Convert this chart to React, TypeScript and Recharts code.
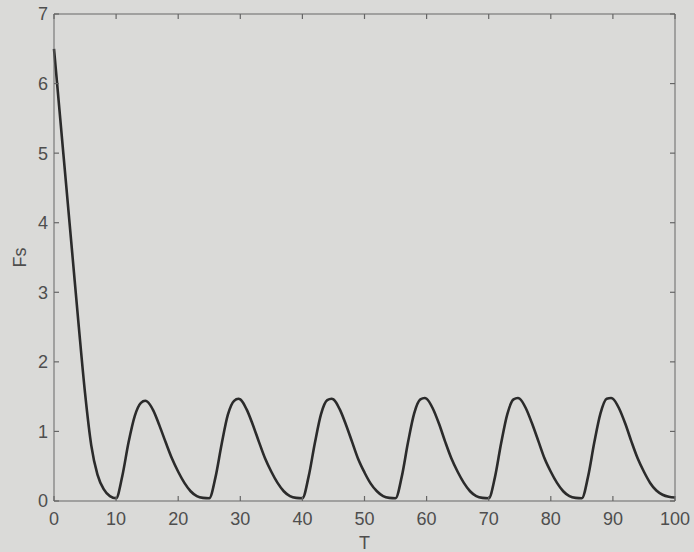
import { LineChart, Line, XAxis, YAxis, Label } from 'recharts';

// samples (extra point at each crest)
const tValues = [
  0, 1, 2, 3, 4, 5, 6, 7, 8, 9, 10,
  11, 12, 13, 14, 14.7, 15, 16, 17, 18, 19, 20, 21, 22, 23, 24, 25,
  26, 27, 28, 29, 29.7, 30, 31, 32, 33, 34, 35, 36, 37, 38, 39, 40,
  41, 42, 43, 44, 44.7, 45, 46, 47, 48, 49, 50, 51, 52, 53, 54, 55,
  56, 57, 58, 59, 59.7, 60, 61, 62, 63, 64, 65, 66, 67, 68, 69, 70,
  71, 72, 73, 74, 74.7, 75, 76, 77, 78, 79, 80, 81, 82, 83, 84, 85,
  86, 87, 88, 89, 89.7, 90, 91, 92, 93, 94, 95, 96, 97, 98, 99, 100,
];

const fsValues = [
  6.5, 5.5, 4.5, 3.5, 2.5, 1.55, 0.8, 0.38, 0.17, 0.07, 0.04,
  0.36, 0.84, 1.22, 1.41, 1.44, 1.43, 1.3, 1.08, 0.84, 0.61, 0.42, 0.26, 0.14, 0.07, 0.045, 0.04,
  0.34, 0.82, 1.24, 1.44, 1.47, 1.46, 1.32, 1.1, 0.85, 0.61, 0.42, 0.26, 0.14, 0.07, 0.045, 0.04,
  0.35, 0.83, 1.25, 1.45, 1.47, 1.46, 1.32, 1.1, 0.85, 0.6, 0.41, 0.25, 0.14, 0.07, 0.045, 0.04,
  0.35, 0.84, 1.26, 1.46, 1.48, 1.47, 1.33, 1.11, 0.85, 0.61, 0.42, 0.26, 0.14, 0.07, 0.045, 0.04,
  0.34, 0.83, 1.25, 1.46, 1.48, 1.47, 1.33, 1.11, 0.86, 0.61, 0.42, 0.26, 0.14, 0.07, 0.045, 0.04,
  0.35, 0.84, 1.26, 1.47, 1.48, 1.47, 1.33, 1.11, 0.85, 0.61, 0.42, 0.26, 0.15, 0.09, 0.06, 0.05,
];

const xTicks = [0, 10, 20, 30, 40, 50, 60, 70, 80, 90, 100];
const yTicks = [0, 1, 2, 3, 4, 5, 6, 7];

const data = tValues.map((t, i) => ({ t, fs: fsValues[i] }));

const BG = '#dadad8';
const AXIS = '#666666';
const TEXT = '#4e4e4e';
const font = { fontFamily: '"Liberation Sans", Arial, sans-serif', fontSize: 18, fill: TEXT };
const tickLine = { stroke: AXIS, strokeWidth: 1.2 };
const noLabel = () => '';

export default function App() {
  return (
    <div style={{ position: 'absolute', left: 0, top: 0, width: 694, height: 552, background: BG }}>
      <LineChart width={694} height={552} data={data} margin={{ top: 13, right: 18, bottom: 0, left: 0 }}>
        <XAxis
          dataKey="t"
          type="number"
          domain={[0, 100]}
          ticks={xTicks}
          height={51}
          stroke={AXIS}
          tickLine={tickLine}
          tickSize={-5}
          tickMargin={16}
          tick={font}
        >
          <Label value="T" position="insideBottom" offset={3} style={font} />
        </XAxis>
        <XAxis
          xAxisId="top"
          dataKey="t"
          orientation="top"
          type="number"
          domain={[0, 100]}
          ticks={xTicks}
          height={1}
          stroke={AXIS}
          tickLine={tickLine}
          tickSize={-5}
          tickFormatter={noLabel}
        />
        <YAxis
          type="number"
          domain={[0, 7]}
          ticks={yTicks}
          width={54}
          stroke={AXIS}
          tickLine={tickLine}
          tickSize={-5}
          tickMargin={11}
          tick={font}
        >
          <Label value="Fs" position="center" angle={-90} dx={-7} style={font} />
        </YAxis>
        <YAxis
          yAxisId="right"
          orientation="right"
          type="number"
          domain={[0, 7]}
          ticks={yTicks}
          width={1}
          stroke={AXIS}
          tickLine={tickLine}
          tickSize={-5}
          tickFormatter={noLabel}
        />
        {/* invisible twin so the box axes (top / right) get drawn */}
        <Line
          xAxisId="top"
          yAxisId="right"
          dataKey="fs"
          stroke="none"
          dot={false}
          activeDot={false}
          isAnimationActive={false}
        />
        <Line
          type="monotone"
          dataKey="fs"
          stroke="#2b2b2b"
          strokeWidth={2.6}
          dot={false}
          isAnimationActive={false}
        />
      </LineChart>
    </div>
  );
}
